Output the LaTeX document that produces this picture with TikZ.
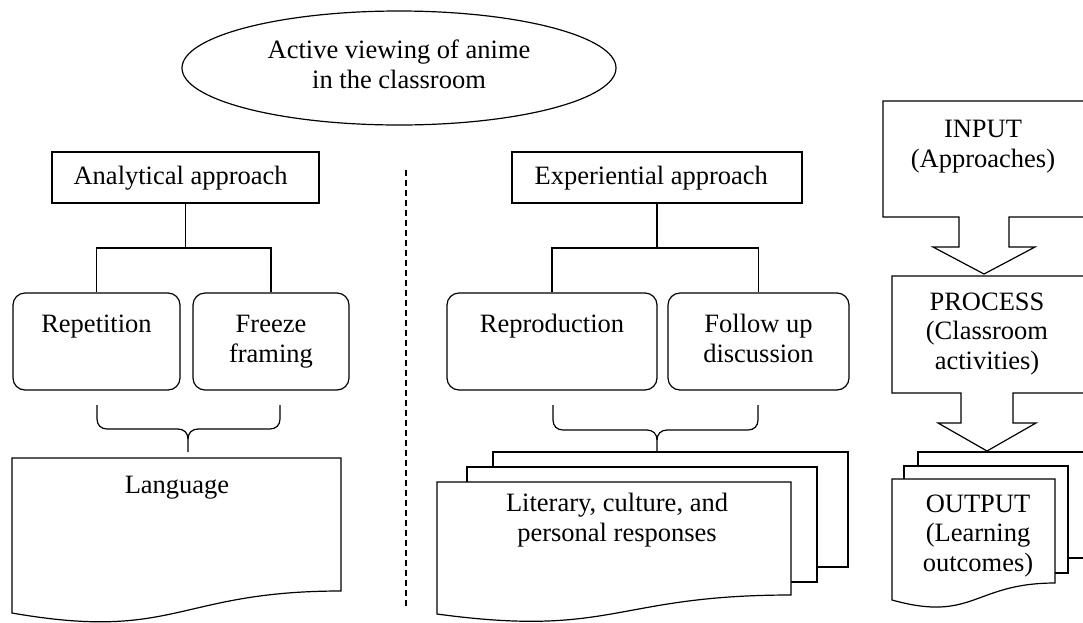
\documentclass[tikz,border=0pt]{standalone}
\usepackage{fontspec}
\setmainfont{Liberation Serif}
\usetikzlibrary{shapes.geometric}
\begin{document}
\begin{tikzpicture}[x=1pt,y=-1pt,line width=1.2pt,
  font=\fontsize{26.5}{29.5}\selectfont,
  box/.style={draw,rectangle,inner sep=0pt},
  rbox/.style={draw,rectangle,rounded corners=12pt,inner sep=0pt},
  txt/.style={inner sep=0pt,align=center},
  sheet/.style={draw,fill=white},
  sep/.style={dash pattern=on 6pt off 4pt}]
\useasboundingbox (0,0) rectangle (1083,622);
\clip (0,0) rectangle (1083,622);

% title
\node (title) [draw,ellipse,minimum width=434pt,minimum height=114pt,inner sep=0pt] at (399,68) {};

% left branch
\node (ana) [box,minimum width=267pt,minimum height=51pt] at (185.5,177.5) {};
\node (rep) [rbox,minimum width=167pt,minimum height=97pt] at (96.5,341.5) {};
\node (frz) [rbox,minimum width=156pt,minimum height=97pt] at (271,341.5) {};
\coordinate (anaj) at (185.5,248);
\draw (ana.south) -- (anaj);
\draw (rep.north) |- (anaj) -| (frz.north);

\draw (97,405) -- (97,419) .. controls (97,425) and (101,429) .. (107,429) -- (178,429)
  .. controls (184,429) and (188,433) .. (188,439) -- (188,452);
\draw (280,405) -- (280,419) .. controls (280,425) and (276,429) .. (270,429) -- (198,429)
  .. controls (192,429) and (188,433) .. (188,439);

\draw[sheet] (12,458) -- (341,458) -- (341,591) .. controls (176.5,591) and (176.5,641.7) .. (12,613) -- cycle;

% separator
\coordinate (septop) at (406,170);
\coordinate (sepbot) at (406,608);
\draw[sep] (septop) -- (sepbot);

% right branch
\node (exp) [box,minimum width=290pt,minimum height=51pt] at (657,177.5) {};
\node (repro) [rbox,minimum width=210pt,minimum height=97pt] at (552,341.5) {};
\node (fol) [rbox,minimum width=181pt,minimum height=97pt] at (758.5,341.5) {};
\coordinate (expj) at (657,248);
\draw (exp.south) -- (expj);
\draw (repro.north) |- (expj) -| (fol.north);

\draw (553,405) -- (553,420) .. controls (553,426) and (557,430) .. (563,430) -- (647,430)
  .. controls (653,430) and (657,434) .. (657,440) -- (657,452);
\draw (758,405) -- (758,420) .. controls (758,426) and (754,430) .. (748,430) -- (667,430)
  .. controls (661,430) and (657,434) .. (657,440);

\draw[sheet] (493,452) rectangle (848,567);
\draw[sheet] (467,467) rectangle (817,582);
\draw[sheet] (437,482) -- (791,482) -- (791,595) .. controls (614,595) and (614,638) .. (437,614) -- cycle;

% IPO model
\draw[sheet] (883,101) -- (1100,101) -- (1100,217) -- (1009,217) -- (1009,247) -- (1035,247)
  -- (984,274) -- (933,247) -- (959,247) -- (959,217) -- (883,217) -- cycle;
\draw[sheet] (892,276) -- (1100,276) -- (1100,393) -- (1013,393) -- (1013,423) -- (1036,423)
  -- (987,451) -- (938,423) -- (961,423) -- (961,393) -- (892,393) -- cycle;
\draw[sheet] (918,452) rectangle (1100,558);
\draw[sheet] (904,466) rectangle (1068,573);
\draw[sheet] (892,479) -- (1055,479) -- (1055,583) .. controls (973.5,583) and (973.5,622.8) .. (892,600) -- cycle;

% texts (anchor=base is the last line's baseline)
\node (titletxt) [txt,anchor=base] at (399,88) {Active viewing of anime\\in the classroom};
\node (anatxt) [txt,anchor=base west] at (73,184) {Analytical approach};
\node (reptxt) [txt,anchor=base] at (96.5,332) {Repetition};
\node (frztxt) [txt,anchor=base] at (271,362) {Freeze\\framing};
\node (lang) [txt,anchor=base] at (177,493) {Language};
\node (exptxt) [txt,anchor=base west] at (534,184) {Experiential approach};
\node (reprotxt) [txt,anchor=base] at (552,332) {Reproduction};
\node (foltxt) [txt,anchor=base] at (758.5,362) {Follow up\\discussion};
\node (lit) [txt,anchor=base] at (617,541) {Literary, culture, and\\personal responses};
\node (input) [txt,anchor=base] at (983,167) {INPUT\\(Approaches)};
\node (process) [txt,anchor=base] at (987,369) {PROCESS\\(Classroom\\activities)};
\node (output) [txt,anchor=base] at (978,571) {OUTPUT\\(Learning\\outcomes)};
\end{tikzpicture}
\end{document}
